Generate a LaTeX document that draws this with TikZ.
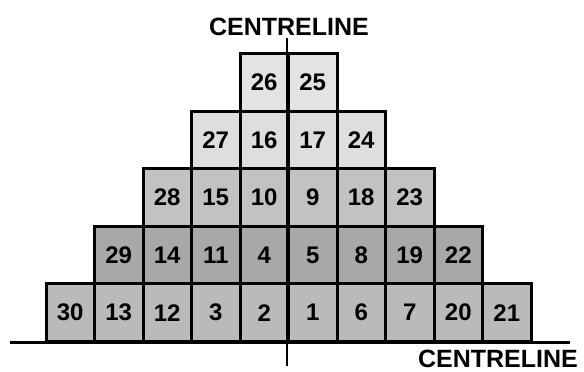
\documentclass[tikz,border=0pt]{standalone}
\usepackage{fontspec}
\setmainfont{Liberation Sans}
\begin{document}
\begin{tikzpicture}[x=1pt,y=-1pt,
  cell/.style={draw=black, line width=3pt, minimum width=48.5pt, minimum height=57.6pt,
    inner sep=0pt, anchor=north west, font=\bfseries\fontsize{24}{24}\selectfont},
  label/.style={font=\bfseries\fontsize{25}{25}\selectfont, inner sep=0pt},
  cline/.style={line width=2pt},
  baseline/.style={line width=3pt}]
\useasboundingbox (0,0) rectangle (584,372);
\foreach \r/\lst/\shade in {0/{26,25}/11, 1/{27,16,17,24}/13, 2/{28,15,10,9,18,23}/24, 3/{29,14,11,4,5,8,19,22}/34, 4/{30,13,12,3,2,1,6,7,20,21}/27}{
  \foreach \n [count=\i from 0] in \lst {
    \node[cell, fill=black!\shade] (c\n) at ({287-(\r+1)*48.5+\i*48.5},{52+\r*57.6}) {\n};
  }
}
\coordinate (bl) at (10,342);
\coordinate (br) at (570,342);
\draw[baseline] (bl) -- (br);
\node[label] (ctop) at (289,27) {CENTRELINE};
\node[label, anchor=base east] (cbot) at (578,367) {CENTRELINE};
\coordinate (vt) at (287,38);
\coordinate (vb) at (287,366);
\draw[cline] (vt) -- (vb);
\end{tikzpicture}
\end{document}
